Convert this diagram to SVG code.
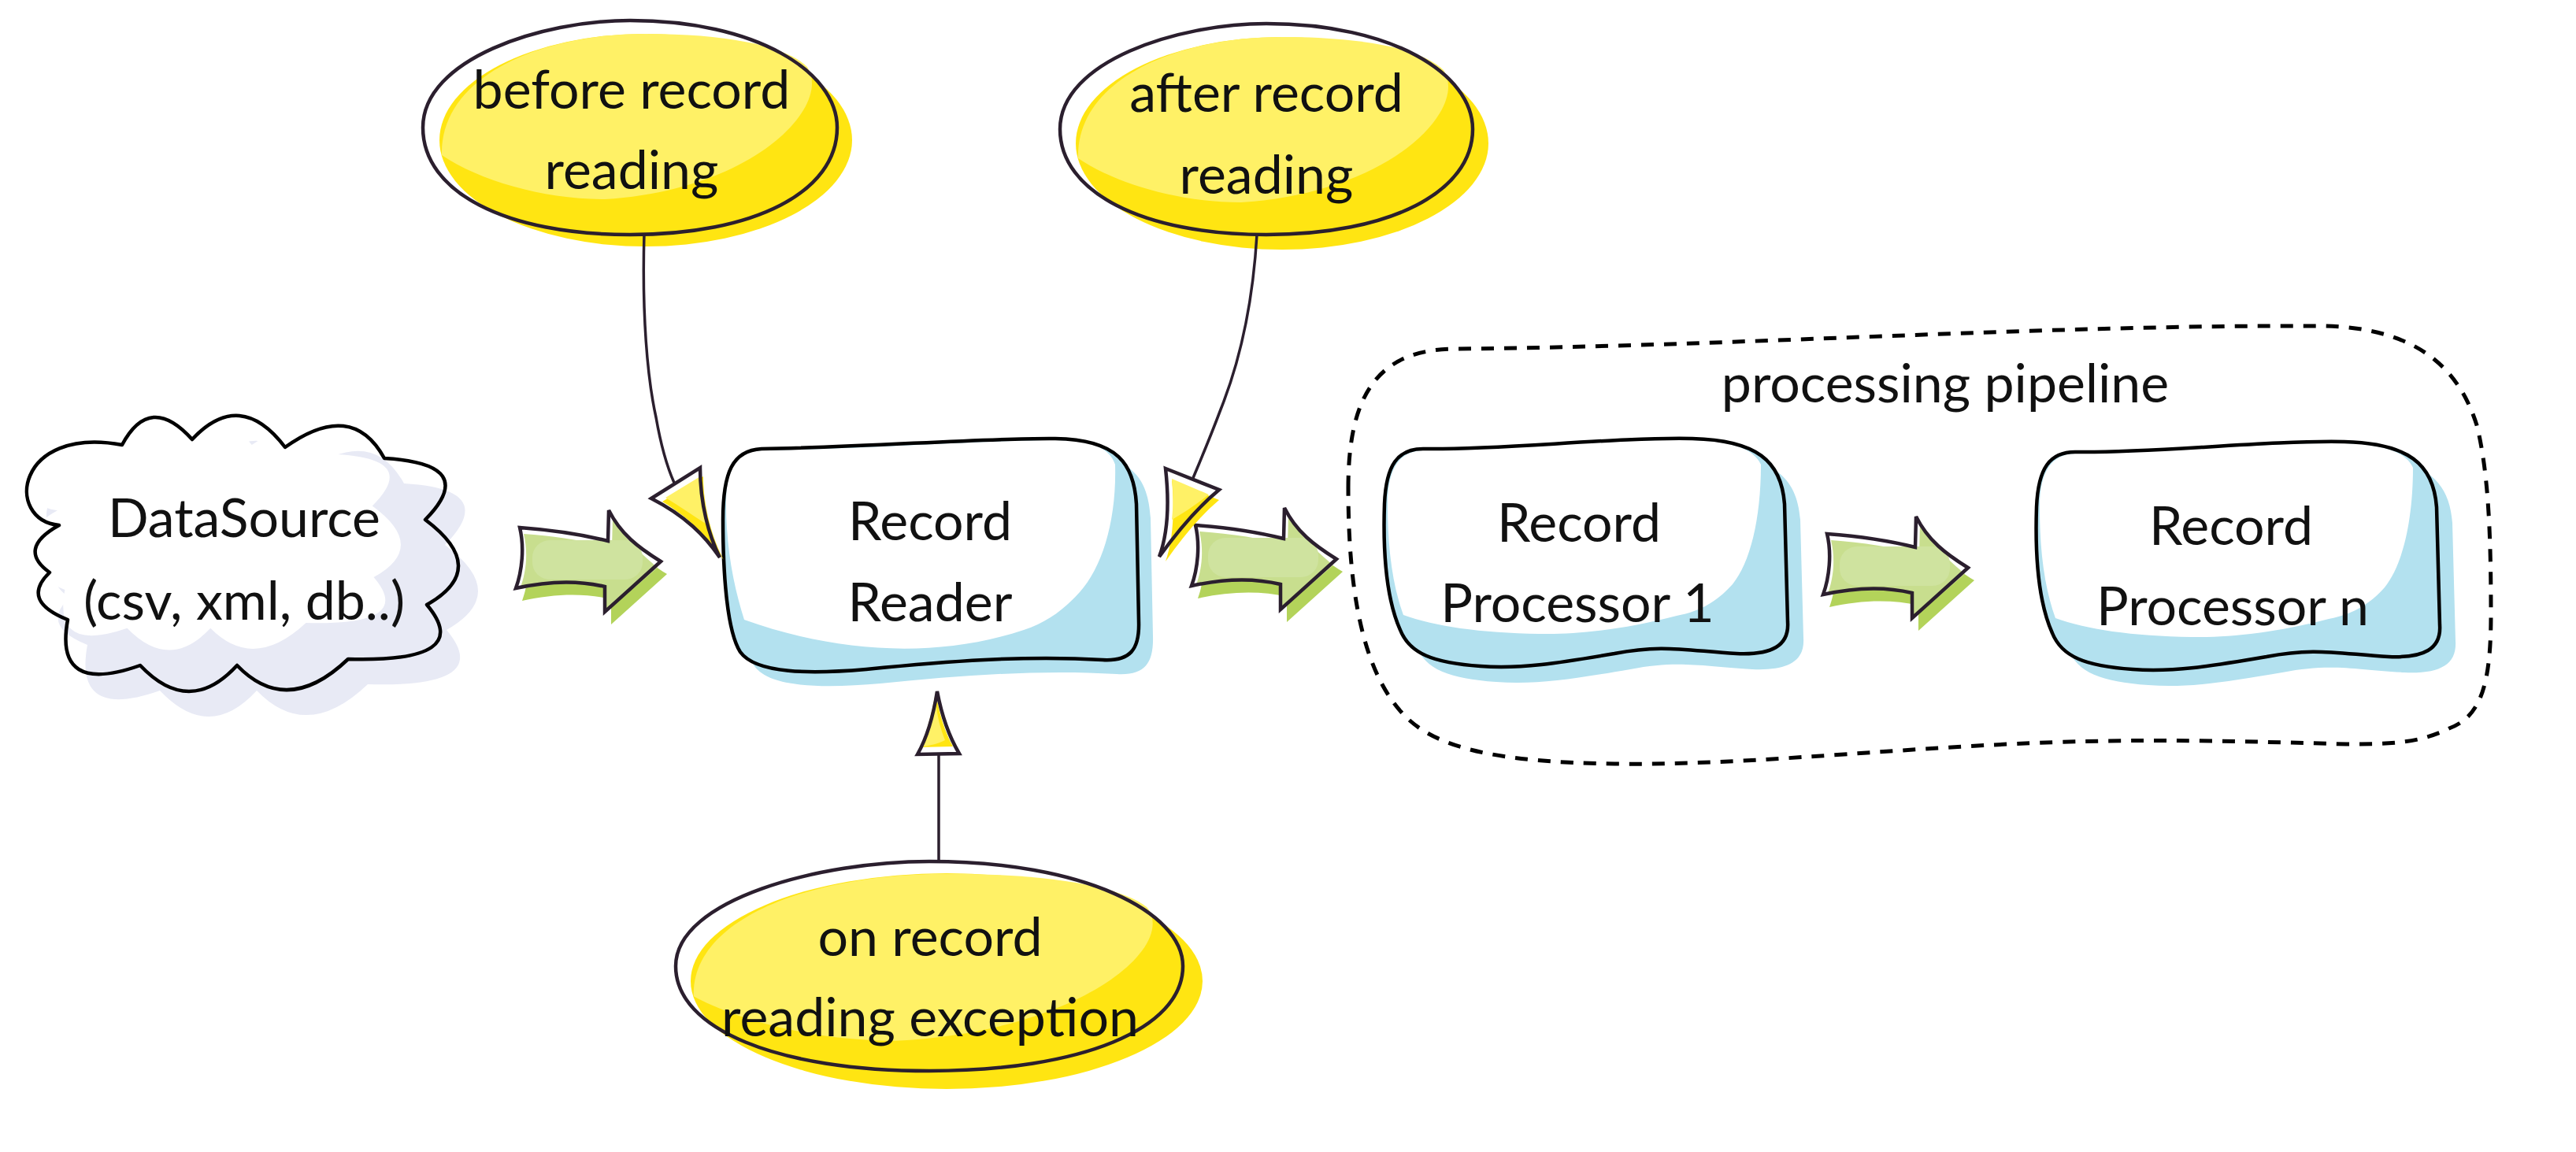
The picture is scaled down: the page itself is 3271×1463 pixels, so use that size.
<svg xmlns="http://www.w3.org/2000/svg" xmlns:xlink="http://www.w3.org/1999/xlink" width="3271" height="1463" viewBox="0 0 3271 1463">
<style>
.t{font-family:Lato,"Open Sans","Liberation Sans",sans-serif;font-size:68px;fill:#111;text-anchor:middle}
.ol{fill:none;stroke:#000;stroke-width:4.5;stroke-linejoin:round}
.eo{fill:none;stroke:#2b1f2e;stroke-width:4.5}
.yd{fill:#ffe512}
.yl{fill:#fff166}
.bl{fill:#b3e1ef}
.wh{fill:#fff}
.lav{fill:#e8eaf5}
.gd{fill:#b3d35a}
.gl{fill:#c8de8e}
.gh{fill:#cfe39f}
.ao{fill:none;stroke:#2b1f2e;stroke-width:4.5;stroke-linejoin:miter}
.ln{fill:none;stroke:#2b1f2e;stroke-width:3.5}
.dash{fill:none;stroke:#000;stroke-width:5;stroke-dasharray:16 13}
</style>
<defs>
<path id="cloud" d="M 75,667 C 5,660 20,540 155,565 Q 190.5,498.5 244,558 Q 305,493 362,568 Q 447,507 488,582 Q 610,589 540,660 Q 623,722 542,768 Q 604,841.5 442,837 Q 364.5,911 301,845 Q 240.5,911 178,845 Q 68,884 86,787 Q 25.5,763 63,727 Q 21,697 75,667 Z"/>
<path id="box" d="M 1807,570 C 1900,572 2050,555 2149,557 C 2230,559 2262,585 2266,640 L 2270,790 C 2272,820 2250,832 2205,830 C 2140,826 2110,818 2050,830 C 1980,842 1930,850 1880,846 C 1820,842 1790,830 1778,800 C 1760,760 1756,700 1758,640 C 1760,590 1775,570 1807,570 Z"/>
<path id="boxhl" d="M 1762,640 C 1762,595 1777,573 1807,572 C 1900,573 2050,557 2149,559 C 2200,560 2228,571 2236,590 C 2236,660 2222,715 2200,742 C 2175,770 2150,778 2129,782 C 2060,800 2000,806 1955,805 C 1880,804 1820,795 1782,781 C 1767,740 1762,690 1762,640 Z"/>
<path id="rr" d="M 967,570 C 1100,568 1250,556 1340,557 C 1420,558 1440,590 1443,640 L 1446,790 C 1447,825 1435,840 1400,838 C 1300,832 1200,840 1100,850 C 1030,856 960,856 940,828 C 922,800 918,720 918,660 C 918,600 930,572 967,570 Z"/>
<path id="ehl" d="M 561,197 C 558,100 680,43 820,43 C 930,43 1000,60 1025,85 C 1035,100 1032,120 1020,140 C 990,190 900,245 768,253 C 690,253 610,230 561,197 Z"/>
<g id="garrow">
<path class="gd" transform="translate(8,16)" d="M 0,0 C 40,3 80,9 112,17 L 113,-22 C 128,8 150,25 179,43 L 108,107 L 108,75 C 75,67 35,68 -5,77 C 3,55 6,25 0,0 Z"/>
<path class="gl" transform="translate(5,8)" d="M 0,0 C 40,3 80,9 112,17 L 113,-22 C 128,8 150,25 170,43 L 104,100 L 104,68 C 75,61 35,62 -5,70 C 3,50 6,25 0,0 Z"/>
<rect class="gh" x="16" y="16" width="140" height="50" rx="22"/>
<path class="ao" d="M 0,0 C 40,3 80,9 112,17 L 113,-22 C 128,8 150,25 179,43 L 108,107 L 108,75 C 75,67 35,68 -5,77 C 3,55 6,25 0,0 Z"/>
</g>
</defs>

<g id="datasource">
<use xlink:href="#cloud" class="lav" transform="translate(25,32)"/>
<use xlink:href="#cloud" class="wh" transform="translate(60,550) scale(0.86,0.84) translate(-60,-550)"/>
<use xlink:href="#cloud" class="ol"/>
<text class="t" x="310" y="682">DataSource</text>
<text class="t" x="310" y="787">(csv, xml, db..)</text>
</g>

<g id="record-reader">
<use xlink:href="#rr" class="bl" transform="translate(18,18)"/>
<use xlink:href="#rr" class="bl"/>
<path class="wh" d="M 922,640 C 922,590 935,573 967,572 C 1100,570 1250,559 1340,559 C 1390,559 1410,571 1416,590 C 1418,660 1400,720 1371,752 C 1350,775 1330,790 1300,800 C 1180,840 1050,825 945,787 C 930,740 922,690 922,640 Z"/>
<use xlink:href="#rr" class="ol"/>
<text class="t" x="1181" y="686">Record</text>
<text class="t" x="1181" y="789">Reader</text>
</g>

<g id="before-record-reading">
<ellipse class="yd" cx="820" cy="178" rx="262" ry="135"/>
<use xlink:href="#ehl" class="yl"/>
<path class="eo" d="M 537,162 C 537,75 687,26 800,26 C 960,26 1063,91 1063,162 C 1063,244 958,298 800,298 C 642,298 537,244 537,162 Z"/>
<text class="t" x="802" y="138">before record</text>
<text class="t" x="802" y="240">reading</text>
</g>

<g id="after-record-reading">
<ellipse class="yd" cx="1628" cy="182" rx="262" ry="135"/>
<use xlink:href="#ehl" class="yl" transform="translate(808,4)"/>
<path class="eo" d="M 1346,164 C 1346,78 1495,30 1608,30 C 1768,30 1870,94 1870,164 C 1870,244 1765,298 1608,298 C 1451,298 1346,244 1346,164 Z"/>
<text class="t" x="1608" y="142">after record</text>
<text class="t" x="1608" y="246">reading</text>
</g>

<g id="on-record-reading-exception">
<ellipse class="yd" cx="1202" cy="1246" rx="325" ry="137"/>
<use xlink:href="#ehl" class="yl" transform="translate(1202,1246) scale(1.24,1.01) translate(-820,-178)"/>
<path class="eo" d="M 858,1227 C 858,1142 1042,1094 1180,1094 C 1376,1094 1502,1158 1502,1227 C 1502,1307 1373,1360 1180,1360 C 987,1360 858,1307 858,1227 Z"/>
<text class="t" x="1181" y="1214">on record</text>
<text class="t" x="1181" y="1316">reading exception</text>
</g>

<g id="processing-pipeline">
<path class="dash" d="M 1712,620 C 1712,500 1750,443 1850,443 C 2200,440 2600,412 2950,414 C 3060,416 3120,460 3145,540 C 3160,600 3163,680 3163,780 C 3163,870 3150,910 3110,925 C 3070,945 3030,945 2980,945 C 2800,940 2700,938 2550,945 C 2350,955 2200,972 2050,970 C 1900,968 1820,950 1780,905 C 1730,850 1712,750 1712,620 Z"/>
<text class="t" x="2470" y="511">processing pipeline</text>
</g>

<g id="record-processor-1">
<use xlink:href="#box" class="bl" transform="translate(20,20)"/>
<use xlink:href="#box" class="bl"/>
<use xlink:href="#boxhl" class="wh"/>
<use xlink:href="#box" class="ol"/>
<text class="t" x="2005" y="688">Record</text>
<text class="t" x="2003" y="790">Processor 1</text>
</g>

<g id="record-processor-n">
<g transform="translate(828,4)">
<use xlink:href="#box" class="bl" transform="translate(20,20)"/>
<use xlink:href="#box" class="bl"/>
<use xlink:href="#boxhl" class="wh"/>
<use xlink:href="#box" class="ol"/>
</g>
<text class="t" x="2833" y="692">Record</text>
<text class="t" x="2835" y="794">Processor n</text>
</g>

<g id="connectors">
<use xlink:href="#garrow" transform="translate(660,670)"/>
<use xlink:href="#garrow" transform="translate(1518,667)"/>
<use xlink:href="#garrow" transform="translate(2320,678)"/>

<path class="ln" d="M 818,296 C 815,400 822,480 833,530 C 840,570 848,595 856,613"/>
<path class="wh" d="M 827,633 L 889,594 C 889,640 900,680 914,708 C 895,680 870,655 827,633 Z"/>
<path class="yd" transform="translate(7,5)" d="M 834,632 L 886,600 C 886,640 898,680 912,706 C 893,680 872,655 834,632 Z"/>
<path class="yl" d="M 845,632 L 891,604 C 890,630 893,650 896,665 C 880,655 862,642 845,632 Z"/>
<path class="ao" d="M 827,633 L 889,594 C 889,640 900,680 914,708 C 895,680 870,655 827,633 Z"/>

<path class="ln" d="M 1596,298 C 1590,400 1570,470 1550,520 C 1535,560 1522,590 1515,607"/>
<path class="wh" d="M 1480,595 L 1548,622 C 1520,645 1495,675 1472,707 C 1482,680 1485,640 1480,595 Z"/>
<path class="yd" transform="translate(6,10)" d="M 1482,600 L 1542,625 C 1516,647 1494,675 1474,703 C 1483,678 1486,640 1482,600 Z"/>
<path class="yl" d="M 1488,608 L 1535,628 C 1520,640 1505,650 1488,660 C 1490,640 1490,625 1488,608 Z"/>
<path class="ao" d="M 1480,595 L 1548,622 C 1520,645 1495,675 1472,707 C 1482,680 1485,640 1480,595 Z"/>

<path class="ln" d="M 1192,1094 L 1192,958"/>
<path class="wh" d="M 1190,878 C 1196,910 1205,935 1218,957 L 1165,958 C 1178,935 1185,910 1190,878 Z"/>
<path class="yd" transform="translate(-4,-5)" d="M 1192,885 C 1197,912 1204,935 1214,953 L 1172,954 C 1182,933 1187,910 1192,885 Z"/>
<path class="yl" d="M 1172,948 C 1180,930 1185,910 1188,890 C 1190,910 1194,925 1200,940 C 1190,945 1180,947 1172,948 Z"/>
<path class="ao" d="M 1190,878 C 1196,910 1205,935 1218,957 L 1165,958 C 1178,935 1185,910 1190,878 Z"/>
</g>
</svg>
